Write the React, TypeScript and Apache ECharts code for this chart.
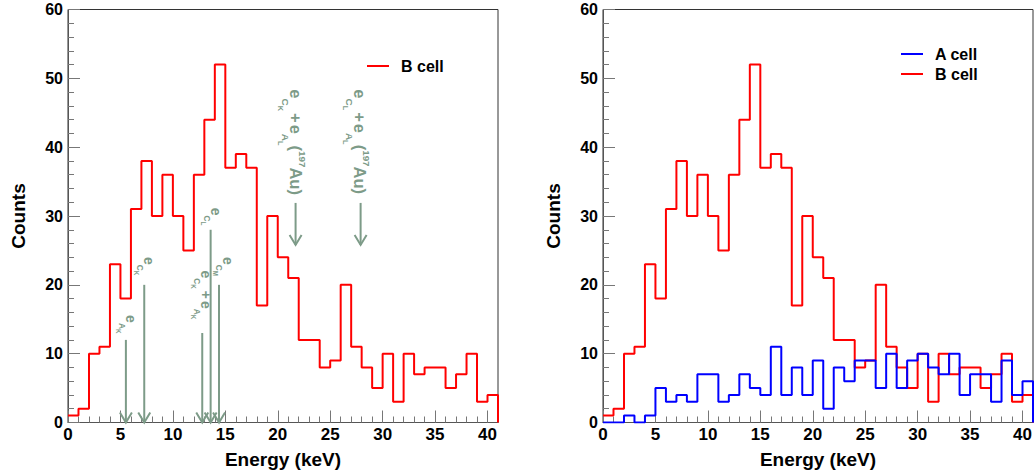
import React, { useEffect, useRef } from 'react';
import * as echarts from 'echarts';

// ---- data ----
const binLowEdges = [0, 1, 2, 3, 4, 5, 6, 7, 8, 9, 10, 11, 12, 13, 14, 15, 16, 17, 18, 19, 20, 21, 22, 23, 24, 25, 26, 27, 28, 29, 30, 31, 32, 33, 34, 35, 36, 37, 38, 39, 40];
const binWidth = 1;
const bCellCounts = [1, 2, 10, 11, 23, 18, 31, 38, 30, 36, 30, 25, 36, 44, 52, 37, 39, 37, 17, 30, 24, 21, 12, 12, 8, 9, 20, 11, 8, 5, 10, 3, 10, 7, 8, 8, 5, 7, 10, 3, 4];
const aCellCounts = [0, 0, 1, 0, 1, 5, 3, 4, 3, 7, 7, 3, 4, 7, 5, 4, 11, 4, 8, 4, 9, 2, 8, 6, 9, 9, 5, 10, 5, 9, 10, 8, 7, 10, 4, 7, 7, 3, 9, 4, 6];

// annotation arrows (keV, counts)
const arrowX = [5.52, 7.27, 12.8, 13.6, 14.4, 21.7, 27.9];
const arrowTop = [12, 20, 13, 28, 20, 31.9, 31.9];
const arrowTip = [0, 0, 0, 0, 0, 25.8, 25.8];
// label anchors: baseline position (keV) and start of text (counts)
const labelX = [5.59, 7.3, 12.72, 13.66, 14.78, 21.2, 27.32];
const labelY = [15.6, 24.05, 22.1, 31.2, 24.05, 48.4, 48.4];
const labelSize = [14, 14, 14, 14, 14, 16.5, 16.5];
// tokens: [text, level]  level 0 main, 1 subscript, 2 sub-subscript, -1 superscript
const labelTokens: [string, number][][] = [
  [['e', 0], ['A', 1], ['K', 2]],
  [['e', 0], ['C', 1], ['K', 2]],
  [['e', 0], ['C', 1], ['K', 2], ['+', 0], ['e', 0], ['A', 1], ['K', 2]],
  [['e', 0], ['C', 1], ['L', 2]],
  [['e', 0], ['C', 1], ['M', 2]],
  [['e', 0], ['C', 1], ['K', 2], ['+', 0], ['e', 0], ['A', 1], ['L', 2], ['(', 0], ['197', -1], ['Au', 0], [')', 0]],
  [['e', 0], ['C', 1], ['L', 2], ['+', 0], ['e', 0], ['A', 1], ['L', 2], ['(', 0], ['197', -1], ['Au', 0], [')', 0]],
];

const FONT = '"Liberation Sans", Arial, Helvetica, sans-serif';
const annColor = '#7d9b88';

let measureCtx: CanvasRenderingContext2D | null = null;
function textWidth(t: string, size: number) {
  if (!measureCtx) measureCtx = document.createElement('canvas').getContext('2d');
  if (!measureCtx) return t.length * size * 0.6;
  measureCtx.font = `bold ${size}px ${FONT}`;
  return measureCtx.measureText(t).width;
}

function buildLabel(i: number) {
  const S = labelSize[i];
  const els: any[] = [];
  let cur = 0;
  for (const [t, lvl] of labelTokens[i]) {
    let size = S;
    let shift = 0;
    if (lvl === 1) { size = S * 0.6; shift = S * 0.5; }
    else if (lvl === 2) { size = S * 0.45; shift = S * 0.72; }
    else if (lvl === -1) { size = S * 0.6; shift = -S * 0.55; }
    const gap = t === '+' ? 2 : 0;
    cur += gap;
    els.push({
      type: 'text',
      x: cur,
      y: shift - size * 0.34,
      style: {
        text: t,
        fill: annColor,
        fontSize: size,
        fontWeight: 'bold',
        fontFamily: FONT,
        align: 'left',
        verticalAlign: 'middle',
      },
    });
    cur += textWidth(t, size) + gap;
  }
  return els;
}

function stepData(counts: number[]) {
  const pts = counts.map((c, i) => [binLowEdges[i], c]);
  pts.push([binLowEdges[binLowEdges.length - 1] + binWidth, 0]);
  return pts;
}

const axisTextStyle = { fontSize: 17, fontWeight: 'bold' as const, color: '#000', fontFamily: FONT };

function majorX(gridIndex: number) {
  return {
    type: 'value', gridIndex, min: 0, max: 41, interval: 5, position: 'bottom',
    name: 'Energy (keV)', nameLocation: 'middle', nameGap: 27,
    nameTextStyle: { fontSize: 19, fontWeight: 'bold', color: '#000', fontFamily: FONT },
    axisLine: { show: true, onZero: false, lineStyle: { color: '#555', width: 1 } },
    axisTick: { show: true, inside: true, length: 12, lineStyle: { color: '#777', width: 1 } },
    minorTick: { show: false },
    axisLabel: { ...axisTextStyle, margin: 3, showMaxLabel: false },
    splitLine: { show: false },
  };
}
function minorX(gridIndex: number) {
  return {
    type: 'value', gridIndex, min: 0, max: 41, interval: 1, position: 'bottom',
    axisLine: { show: false, onZero: false },
    axisTick: { show: true, inside: true, length: 6, lineStyle: { color: '#777', width: 1 } },
    axisLabel: { show: false },
    splitLine: { show: false },
  };
}
function yAx(gridIndex: number) {
  return {
    type: 'value', gridIndex, min: 0, max: 60, interval: 10,
    name: 'Counts', nameLocation: 'middle', nameGap: 40,
    nameTextStyle: { fontSize: 19, fontWeight: 'bold', color: '#000', fontFamily: FONT },
    axisLine: { show: true, lineStyle: { color: '#555', width: 1 } },
    axisTick: { show: true, inside: true, length: 12, lineStyle: { color: '#777', width: 1 } },
    minorTick: { show: true, splitNumber: 5, length: 6, lineStyle: { color: '#777', width: 1 } },
    axisLabel: { ...axisTextStyle, fontSize: 16, margin: 5 },
    splitLine: { show: false },
  };
}

const legendText = { fontSize: 16, fontWeight: 'bold' as const, color: '#000', fontFamily: FONT, lineHeight: 18, padding: [0, 0, 0, 7] };

export default function App() {
  const ref = useRef<HTMLDivElement>(null);
  useEffect(() => {
    if (!ref.current) return;
    const chart = echarts.init(ref.current, undefined, { renderer: 'svg' });
    const option: any = {
      animation: false,
      backgroundColor: '#fff',
      textStyle: { fontFamily: FONT },
      grid: [
        { left: 68, top: 9.5, width: 430, height: 413, show: true, borderColor: '#333', borderWidth: 1, backgroundColor: 'transparent' },
        { left: 603, top: 9.5, width: 430, height: 413, show: true, borderColor: '#333', borderWidth: 1, backgroundColor: 'transparent' },
      ],
      xAxis: [majorX(0), minorX(0), majorX(1), minorX(1)],
      yAxis: [yAx(0), yAx(1)],
      legend: [
        { data: ['B cell'], orient: 'vertical', left: 367, top: 57, padding: 0, icon: 'rect', itemWidth: 22, itemHeight: 2, itemGap: 2, textStyle: legendText, selectedMode: false },
        { data: ['A cell', 'B cell'], orient: 'vertical', left: 901, top: 45, padding: 0, icon: 'rect', itemWidth: 22, itemHeight: 2, itemGap: 2, textStyle: legendText, selectedMode: false },
      ],
      series: [
        {
          type: 'line', name: 'B cell', xAxisIndex: 0, yAxisIndex: 0, step: 'end',
          data: stepData(bCellCounts), symbol: 'none', showSymbol: false,
          lineStyle: { color: '#ff0000', width: 2 }, itemStyle: { color: '#ff0000' }, z: 3,
        },
        {
          type: 'custom', name: 'annotations', xAxisIndex: 0, yAxisIndex: 0, silent: true, clip: false, z: 4,
          data: arrowX.map((x, i) => [x, arrowTop[i]]),
          encode: { x: 0, y: 1 },
          renderItem: (params: any, api: any) => {
            const i = params.dataIndex;
            const top = api.coord([arrowX[i], arrowTop[i]]);
            const tip = api.coord([arrowX[i], arrowTip[i]]);
            const anchor = api.coord([labelX[i], labelY[i]]);
            return {
              type: 'group',
              children: [
                { type: 'line', shape: { x1: top[0], y1: top[1], x2: tip[0], y2: tip[1] }, style: { stroke: annColor, lineWidth: 2 } },
                { type: 'polyline', shape: { points: [[tip[0] - 6, tip[1] - 10], [tip[0], tip[1]], [tip[0] + 6, tip[1] - 10]] }, style: { stroke: annColor, lineWidth: 2, fill: null } },
                { type: 'group', x: anchor[0], y: anchor[1], rotation: -Math.PI / 2, children: buildLabel(i) },
              ],
            };
          },
        },
        {
          type: 'line', name: 'B cell', xAxisIndex: 2, yAxisIndex: 1, step: 'end',
          data: stepData(bCellCounts), symbol: 'none', showSymbol: false,
          lineStyle: { color: '#ff0000', width: 2 }, itemStyle: { color: '#ff0000' }, z: 3,
        },
        {
          type: 'line', name: 'A cell', xAxisIndex: 2, yAxisIndex: 1, step: 'end',
          data: stepData(aCellCounts), symbol: 'none', showSymbol: false,
          lineStyle: { color: '#0000ff', width: 2 }, itemStyle: { color: '#0000ff' }, z: 3,
        },
      ],
    };
    chart.setOption(option);
    return () => chart.dispose();
  }, []);
  return <div ref={ref} style={{ position: 'absolute', left: 0, top: 0, width: 1036, height: 474 }} />;
}
